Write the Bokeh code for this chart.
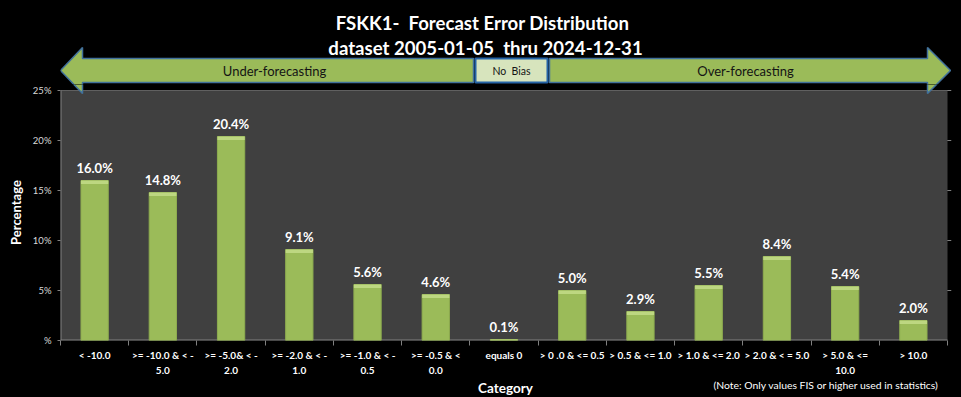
import math
from bokeh.plotting import figure
from bokeh.layouts import column
from bokeh.models import Range1d, FixedTicker, ColumnDataSource
from bokeh.core.properties import value
from bokeh.embed import file_html
from bokeh.resources import INLINE

# ---------------- data ----------------
categories = [
    "< -10.0",
    ">= -10.0 & < -\n5.0",
    ">= -5.0& < -\n2.0",
    ">= -2.0 & < -\n1.0",
    ">= -1.0 & < -\n0.5",
    ">= -0.5 & <\n0.0",
    "equals 0",
    "> 0 .0 & <= 0.5",
    "> 0.5 & <= 1.0",
    "> 1.0 & <= 2.0",
    "> 2.0 & < = 5.0",
    "> 5.0 & <=\n10.0",
    "> 10.0",
]
percentages = [16.0, 14.8, 20.4, 9.1, 5.6, 4.6, 0.1, 5.0, 2.9, 5.5, 8.4, 5.4, 2.0]
y_ticks = [0, 5, 10, 15, 20, 25]
y_tick_labels = ["%", "5%", "10%", "15%", "20%", "25%"]
title_lines = ["FSKK1-\u00a0 Forecast Error Distribution",
               "dataset 2005-01-05\u00a0 thru 2024-12-31"]
band_texts = ["Under-forecasting", "No\u00a0 Bias", "Over-forecasting"]
x_title = "Category"
y_title = "Percentage"
note_text = "(Note: Only values FIS or higher used in statistics)"

FONT = "Lato"
W, H = 961, 397
TOP_H = 84          # title / arrow strip
BOT_H = 17          # x title / note strip
MAIN_H = H - TOP_H - BOT_H
FL, FR = 60, 947    # plot area left / right (page px)
FR_EXT = 951        # frame right (room for the arrow tip)
F0 = 340            # page y of 0 %
PX_PER_UNIT = 10.0  # px per percent
n = len(categories)
x0, x1 = -0.5, n - 0.5
x_end = x0 + (FR_EXT - FL) / (FR - FL) * (x1 - x0)
y_top = (F0 - TOP_H) / PX_PER_UNIT
BLACK = {"background-color": "black"}
CAP = 0.35          # height (in %) of the lighter bevel at each bar top


def fx(px):
    return x0 + (px - FL) / (FR - FL) * (x1 - x0)


def fy(py):
    return (F0 - py) / PX_PER_UNIT


def strip(height, y_start):
    f = figure(width=W, height=height, output_backend="svg", toolbar_location=None,
               x_range=Range1d(FL, FR_EXT), y_range=Range1d(y_start + height, y_start),
               min_border_left=FL, min_border_right=W - FR_EXT,
               min_border_top=0, min_border_bottom=0,
               background_fill_color="black", border_fill_color="black",
               outline_line_color=None, x_axis_type=None, y_axis_type=None,
               styles=BLACK)
    f.grid.visible = False
    return f


# arrow shapes (page px)
left_arrow = [(60, 70), (82, 47), (82, 58), (473, 58), (473, 82), (82, 82), (82, 93)]
right_arrow = [(549, 58), (927, 58), (927, 47), (950, 70), (927, 93), (927, 82), (549, 82)]
nobias = [(475, 58), (547, 58), (547, 82), (475, 82)]
shapes = [(left_arrow, "#9BBB59", "#41719C", 1.5),
          (right_arrow, "#9BBB59", "#41719C", 1.5),
          (nobias, "#D7E4BD", "#2563A6", 2)]

# ---------------- top strip ----------------
top = strip(TOP_H, 0)
for pts, fill, line, lw in shapes:
    top.patch([a for a, b in pts], [b for a, b in pts], fill_color=fill,
              line_color=line, line_width=lw)
for txt, cx, size in zip(band_texts, [274, 511, 745], ["13px", "10.5px", "13px"]):
    top.text([cx], [70], text=[txt], text_align="center", text_baseline="middle",
             text_color="#141414", text_font=value(FONT), text_font_size=size)
for i, (line, cx) in enumerate(zip(title_lines, [482, 485])):
    top.text([cx], [22 + 25 * i], text=[line], text_align="center",
             text_baseline="middle", text_color="white", text_font=value(FONT),
             text_font_style="bold", text_font_size="18.6px")

# ---------------- main chart ----------------
p = figure(width=W, height=MAIN_H, output_backend="svg", toolbar_location=None,
           x_range=Range1d(x0, x_end), y_range=Range1d(0, y_top),
           min_border_left=FL, min_border_right=W - FR_EXT, min_border_top=0,
           min_border_bottom=TOP_H + MAIN_H - F0,
           background_fill_color="black", border_fill_color="black",
           outline_line_color=None, styles=BLACK)

# plot-area background and its left / bottom border
p.quad(left=x0, right=x1, bottom=0, top=25, fill_color="#404040", line_color=None)
p.segment(x0=[x0, x0], y0=[0, 0], x1=[x0, x1], y1=[25, 0], line_color="#808080",
          line_width=2)

# arrow-head parts that reach into the chart strip
for pts, fill, line, lw in shapes[:2]:
    p.patch([fx(a) for a, b in pts], [fy(b) for a, b in pts], fill_color=fill,
            line_color=line, line_width=lw)

xs = list(range(n))
src = ColumnDataSource(dict(x=xs, top=percentages,
                            cap=[max(0.0, v - CAP) for v in percentages],
                            lab=[f"{v:.1f}%" for v in percentages]))
p.vbar(x="x", top="top", width=0.4, source=src, fill_color="#9BBB59",
       line_color="#8EAD4F", line_width=1)
p.vbar(x="x", top="top", bottom="cap", width=0.4, source=src, fill_color="#BDD781",
       line_color=None)
p.text(x="x", y="top", text="lab", source=src, text_align="center",
       text_baseline="bottom", y_offset=-5, text_color="white",
       text_font=value(FONT), text_font_style="bold", text_font_size="13px")

xa = p.xaxis[0]
xa.ticker = FixedTicker(ticks=xs, minor_ticks=[i - 0.5 for i in range(n + 1)])
xa.major_label_overrides = {i: c for i, c in enumerate(categories)}
xa.major_tick_out = 0
xa.major_tick_in = 0
xa.minor_tick_out = 5
xa.minor_tick_in = 0
xa.minor_tick_line_color = "#808080"
xa.axis_line_color = None
xa.major_label_standoff = 3
xa.major_label_text_color = "white"
xa.major_label_text_font = FONT
xa.major_label_text_font_style = "bold"
xa.major_label_text_font_size = "10px"
xa.major_label_text_line_height = 1.3

ya = p.yaxis[0]
ya.ticker = FixedTicker(ticks=y_ticks, minor_ticks=[])
ya.major_label_overrides = {t: s for t, s in zip(y_ticks, y_tick_labels)}
ya.major_tick_out = 3
ya.major_tick_in = 0
ya.major_tick_line_color = "#808080"
ya.axis_line_color = None
ya.major_label_standoff = 6
ya.major_label_text_color = "#d9d9d9"
ya.major_label_text_font = FONT
ya.major_label_text_font_size = "9.5px"
ya.axis_label = y_title
ya.axis_label_standoff = 6
ya.axis_label_text_color = "white"
ya.axis_label_text_font = FONT
ya.axis_label_text_font_style = "bold"
ya.axis_label_text_font_size = "13px"

p.xgrid.grid_line_color = None
p.ygrid.grid_line_color = "#808080"
p.ygrid.grid_line_width = 1

# ---------------- bottom strip ----------------
bot = strip(BOT_H, TOP_H + MAIN_H)
bot.text([505], [387], text=[x_title], text_align="center", text_baseline="middle",
         text_color="white", text_font=value(FONT), text_font_style="bold",
         text_font_size="13.5px")
bot.text([713], [384], text=[note_text], text_align="left", text_baseline="middle",
         text_color="white", text_font=value(FONT), text_font_size="10.4px")

layout = column(top, p, bot, spacing=0, styles=BLACK)
open("out.html", "w").write(file_html(layout, INLINE))
